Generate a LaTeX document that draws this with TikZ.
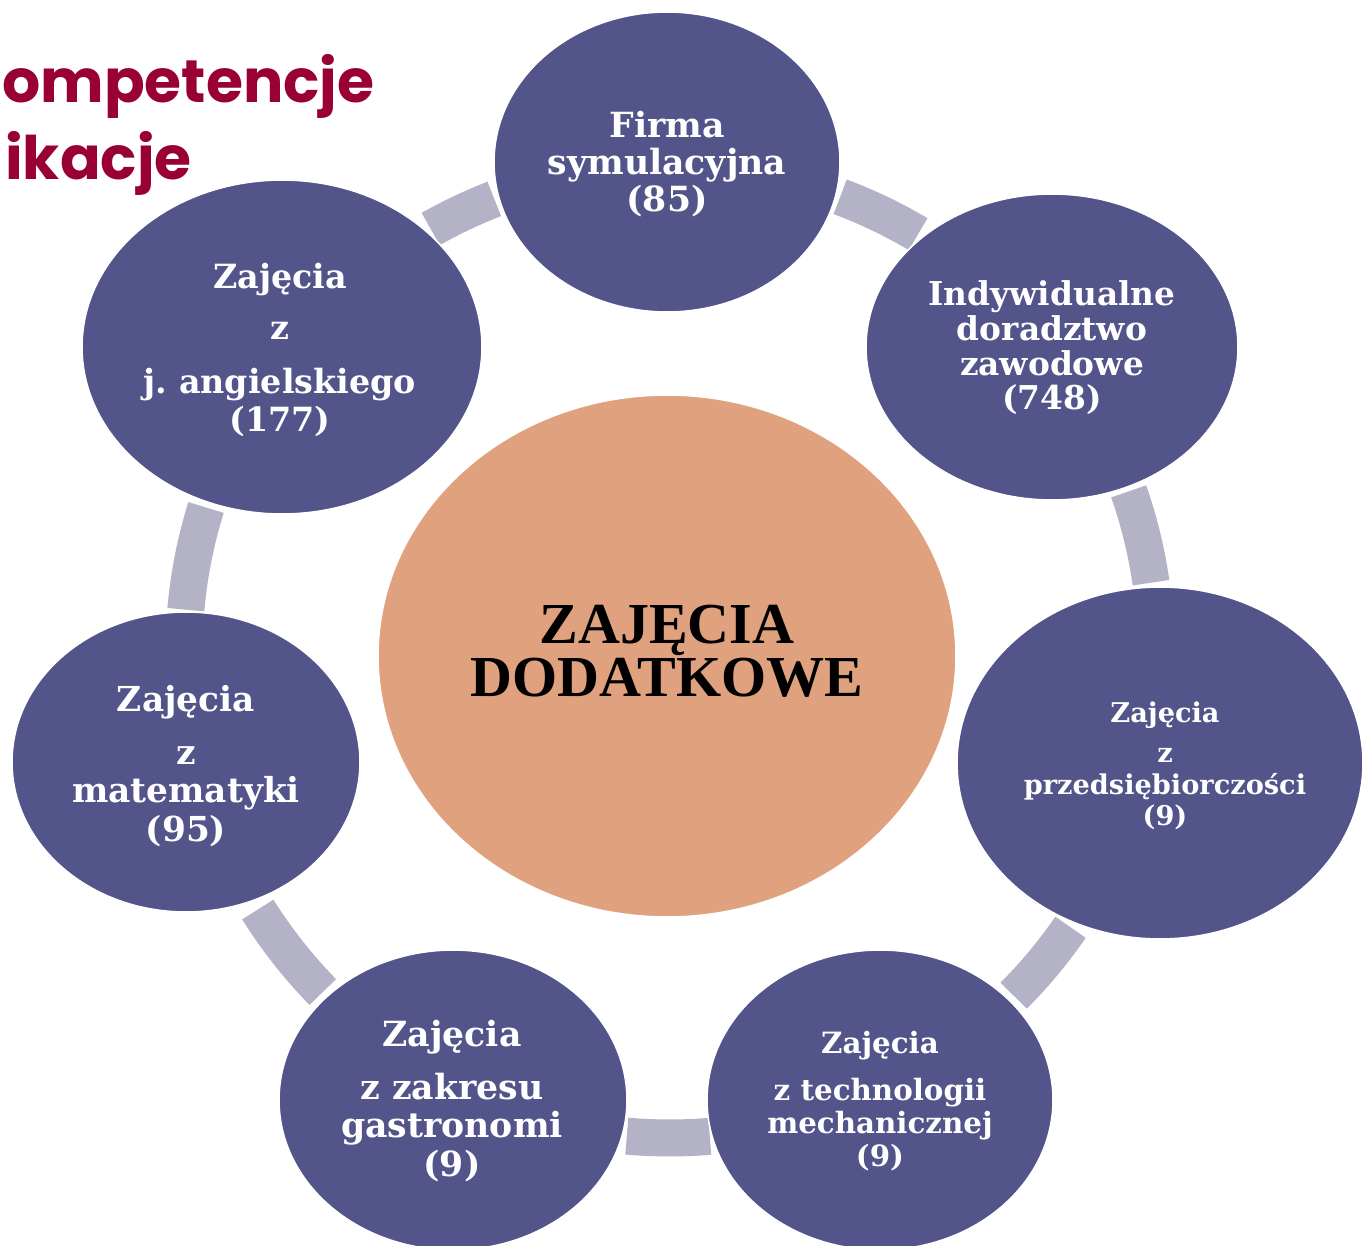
\documentclass[tikz,border=0pt]{standalone}
\usepackage{fontspec}
\usetikzlibrary{shapes.geometric}
\newfontfamily\circf{DejaVu Serif}
\newfontfamily\centf{Liberation Serif}
\newfontfamily\comicf{Poppins}
\definecolor{ellc}{RGB}{83,84,138}
\definecolor{ringc}{RGB}{179,178,198}
\definecolor{centc}{RGB}{224,161,126}
\definecolor{redc}{RGB}{153,0,51}
\frenchspacing
\begin{document}
\begin{tikzpicture}[x=0.75pt,y=-0.75pt,
  oval/.style={ellipse, fill=ellc, draw=white, line width=1.2pt, inner sep=0pt},
  lab/.style={text=white, align=center, inner sep=0pt},
  ringseg/.style={draw=ringc, line width=27.75pt},
  redtxt/.style={text=redc, anchor=base west, inner sep=0pt, font=\comicf\bfseries\fontsize{45}{50}\selectfont}
]
\fill[white] (0,0) rectangle (1362,1245);
\clip (0,0) rectangle (1362,1245);
\useasboundingbox (0,0) rectangle (1362,1245);

% ring segments
\coordinate (rc) at (670,652);
\draw[ringseg] (rc) ++(-119.5:486) arc[start angle=-119.5, end angle=-111.2, radius=486];
\draw[ringseg] (rc) ++(-69.5:486) arc[start angle=-69.5, end angle=-59.3, radius=486];
\draw[ringseg] (rc) ++(-19.3:486) arc[start angle=-19.3, end angle=-8.2, radius=486];
\draw[ringseg] (rc) ++(34.5:486) arc[start angle=34.5, end angle=45, radius=486];
\draw[ringseg] (rc) ++(85.3:486) arc[start angle=85.3, end angle=95.1, radius=486];
\draw[ringseg] (rc) ++(135.6:486) arc[start angle=135.6, end angle=148, radius=486];
\draw[ringseg] (rc) ++(-175:486) arc[start angle=-175, end angle=-162.7, radius=486];

% ellipses
\node[oval, minimum width=346*0.75pt, minimum height=300*0.75pt] (e1) at (667,162) {};
\node[oval, minimum width=372*0.75pt, minimum height=306*0.75pt] (e2) at (1052,347) {};
\node[oval, minimum width=406*0.75pt, minimum height=352*0.75pt] (e3) at (1160,763) {};
\node[oval, minimum width=346*0.75pt, minimum height=300*0.75pt] (e4) at (880,1100) {};
\node[oval, minimum width=348*0.75pt, minimum height=300*0.75pt] (e5) at (453,1100) {};
\node[oval, minimum width=348*0.75pt, minimum height=300*0.75pt] (e6) at (186,762) {};
\node[oval, minimum width=400*0.75pt, minimum height=334*0.75pt] (e7) at (282,347) {};
\node[ellipse, fill=centc, draw=white, line width=1.2pt, inner sep=0pt,
      minimum width=578*0.75pt, minimum height=522*0.75pt] (ec) at (667,656) {};

% labels
\node[lab, font=\circf\bfseries\fontsize{26}{28}\selectfont] (t1) at (667,164)
  {Firma\\symulacyjna\\(85)};
\node[lab, font=\circf\bfseries\fontsize{24.6}{26}\selectfont] (t2) at (1052,348)
  {Indywidualne\\doradztwo\\zawodowe\\(748)};
\node[lab, font=\circf\bfseries\fontsize{20.4}{23.6}\selectfont] (t3) at (1165,766)
  {Zajęcia\\[6.5pt]z\\przedsiębiorczości\\(9)};
\node[lab, font=\circf\bfseries\fontsize{22}{24.4}\selectfont] (t4) at (880,1101)
  {Zajęcia\\[11pt]z technologii\\mechanicznej\\(9)};
\node[lab, font=\circf\bfseries\fontsize{26}{29}\selectfont] (t5) at (452,1101)
  {Zajęcia\\[10.5pt]z zakresu\\gastronomi\\(9)};
\node[lab, font=\circf\bfseries\fontsize{25.8}{29}\selectfont] (t6) at (186,766)
  {Zajęcia\\[10.5pt]z\\matematyki\\(95)};
\node[lab, font=\circf\bfseries\fontsize{25}{28.5}\selectfont] (t7) at (280,350)
  {Zajęcia\\[9.75pt]z\\[12pt]j. angielskiego\\(177)};
\node[lab, text=black, font=\centf\bfseries\fontsize{43.5}{40}\selectfont] (tc) at (667,651)
  {ZAJĘCIA\\DODATKOWE};

% red title fragments
\node[redtxt] (r1) at (2,103) {ompetencje};
\node[redtxt] (r2) at (5,180) {ikacje};
\end{tikzpicture}
\end{document}
